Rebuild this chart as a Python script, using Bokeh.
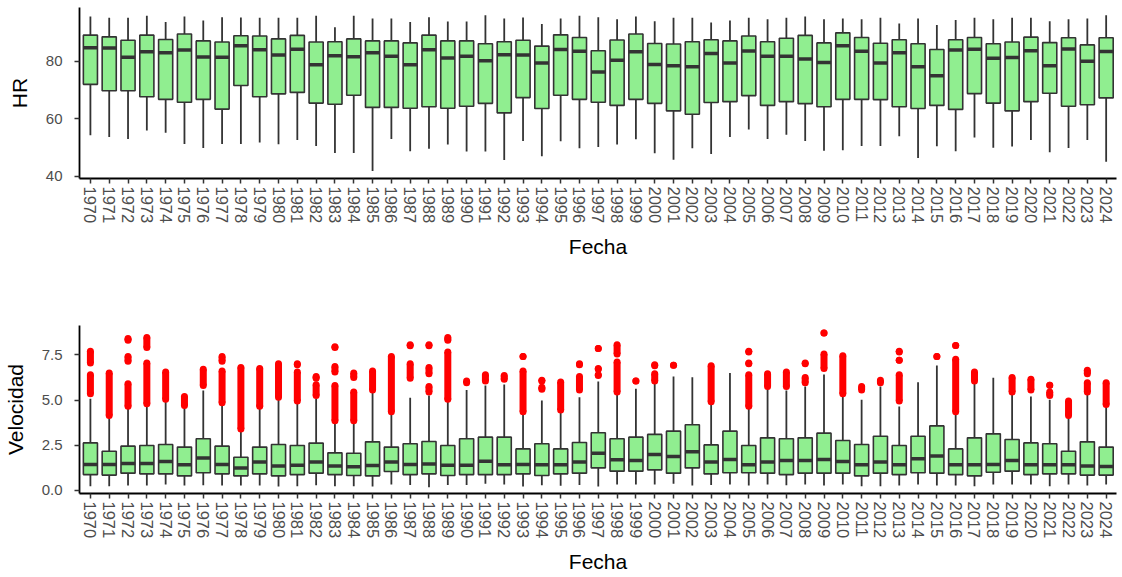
from bokeh.plotting import figure
from bokeh.layouts import column
from bokeh.models import FixedTicker, Range1d
from bokeh.embed import file_html
from bokeh.resources import INLINE

years = list(range(1970, 2025))

# HR (%) yearly box statistics
hr_upper = [95.6, 95.1, 95.1, 95.8, 93.7, 95.6, 94.2, 95.3, 95.2, 95.1, 95.1, 95.1, 95.8, 91.8, 95.8,
            94.9, 94.9, 93.7, 95.3, 93.8, 93.8, 96.0, 94.9, 95.2, 93.0, 94.9, 95.8, 95.3, 94.6, 95.6,
            93.9, 95.1, 95.1, 93.5, 94.2, 95.1, 94.6, 95.1, 95.6, 94.6, 94.9, 94.6, 95.1, 93.1, 94.9,
            92.6, 94.4, 95.1, 94.6, 95.1, 95.1, 93.9, 94.6, 94.9, 96.0]
hr_q3 = [89.1, 88.5, 87.3, 89.1, 87.6, 89.5, 87.1, 86.7, 88.9, 88.8, 87.8, 89.0, 86.7, 86.8, 87.8,
         87.1, 87.1, 86.4, 89.1, 87.1, 87.1, 86.1, 86.8, 87.3, 85.3, 89.2, 88.3, 83.7, 87.4, 89.5,
         86.2, 86.0, 86.8, 87.5, 87.1, 88.8, 86.8, 88.0, 89.0, 86.4, 89.9, 88.3, 86.3, 87.5, 86.1,
         84.1, 87.5, 88.3, 86.1, 86.7, 88.4, 86.5, 88.2, 85.7, 88.2]
hr_median = [84.7, 84.6, 81.4, 83.3, 83.0, 83.9, 81.5, 81.4, 85.4, 84.0, 82.2, 84.2, 78.8, 81.9, 81.6,
             83.0, 81.8, 78.8, 84.0, 81.2, 81.8, 80.2, 82.3, 82.2, 79.4, 84.1, 83.5, 76.3, 80.4, 83.3,
             78.9, 78.5, 78.1, 82.7, 79.4, 83.6, 81.8, 81.8, 80.8, 79.6, 85.4, 83.5, 79.4, 83.0, 78.1,
             75.0, 83.9, 84.2, 81.1, 81.3, 83.7, 78.5, 84.3, 80.0, 83.4]
hr_q1 = [72.0, 69.8, 69.8, 67.7, 66.8, 65.8, 66.8, 63.4, 71.6, 67.7, 68.7, 69.2, 65.5, 65.1, 68.2,
         64.0, 64.0, 63.7, 64.2, 63.7, 64.4, 65.4, 62.1, 67.4, 63.6, 68.2, 66.8, 65.8, 64.7, 66.8,
         65.4, 62.8, 61.6, 65.7, 66.0, 68.1, 64.7, 66.0, 65.3, 64.2, 66.8, 66.8, 66.7, 64.2, 63.6,
         64.7, 63.3, 68.8, 65.5, 62.8, 66.0, 68.9, 64.4, 64.9, 67.3]
hr_lower = [54.3, 53.7, 53.0, 56.0, 55.2, 51.3, 49.9, 51.3, 51.3, 51.8, 51.2, 52.7, 50.6, 48.2, 48.2,
            41.9, 53.0, 48.8, 49.6, 51.1, 48.7, 48.7, 45.7, 52.3, 47.0, 52.2, 49.8, 50.2, 51.1, 52.9,
            48.1, 45.8, 49.8, 47.8, 53.7, 56.3, 53.0, 54.5, 52.3, 48.9, 49.1, 50.6, 50.6, 54.0, 46.4,
            50.5, 48.8, 53.5, 50.0, 50.4, 52.7, 48.4, 49.9, 52.7, 45.1]

# Velocidad yearly box statistics
vel_upper = [5.07, 4.05, 4.60, 4.74, 4.97, 4.60, 5.53, 4.70, 3.32, 4.60, 5.07, 4.92, 5.07, 3.74, 3.74,
             5.43, 4.24, 5.12, 5.25, 5.01, 5.56, 5.80, 5.86, 4.20, 4.97, 4.33, 5.16, 6.03, 5.38, 5.62,
             5.90, 6.30, 6.26, 4.79, 6.50, 4.60, 5.62, 5.53, 5.75, 6.41, 5.25, 5.01, 5.75, 4.64, 5.99,
             6.91, 4.20, 5.90, 6.23, 5.29, 5.20, 5.01, 4.05, 5.34, 4.64]
vel_q3 = [2.63, 2.17, 2.45, 2.49, 2.54, 2.40, 2.86, 2.45, 1.84, 2.40, 2.54, 2.49, 2.62, 2.08, 2.06,
          2.69, 2.40, 2.58, 2.71, 2.49, 2.86, 2.95, 2.95, 2.30, 2.58, 2.30, 2.65, 3.19, 2.86, 2.95,
          3.10, 3.28, 3.63, 2.52, 3.28, 2.49, 2.91, 2.86, 2.91, 3.17, 2.76, 2.54, 3.00, 2.49, 3.00,
          3.57, 2.30, 2.91, 3.13, 2.82, 2.63, 2.58, 2.17, 2.69, 2.40]
vel_median = [1.44, 1.44, 1.49, 1.49, 1.60, 1.42, 1.79, 1.44, 1.25, 1.57, 1.36, 1.40, 1.57, 1.35, 1.31,
              1.38, 1.57, 1.44, 1.47, 1.40, 1.40, 1.62, 1.42, 1.44, 1.42, 1.42, 1.57, 2.06, 1.70, 1.66,
              1.99, 1.88, 2.14, 1.57, 1.71, 1.42, 1.57, 1.66, 1.66, 1.71, 1.60, 1.42, 1.57, 1.42, 1.75,
              1.90, 1.42, 1.42, 1.44, 1.66, 1.42, 1.42, 1.42, 1.36, 1.33]
vel_q1 = [0.88, 0.85, 0.96, 0.92, 0.92, 0.81, 0.98, 0.92, 0.81, 0.92, 0.81, 0.88, 0.96, 0.88, 0.83,
          0.81, 1.05, 0.88, 0.92, 0.83, 0.88, 0.88, 0.88, 0.92, 0.83, 0.92, 0.96, 1.25, 1.07, 1.07,
          1.14, 0.96, 1.25, 0.92, 0.98, 0.98, 0.96, 0.88, 0.96, 0.96, 0.96, 0.81, 0.96, 0.88, 0.98,
          0.96, 0.88, 0.81, 1.01, 1.07, 0.88, 0.92, 0.92, 0.85, 0.85]
vel_lower = [0.24, 0.24, 0.28, 0.28, 0.33, 0.28, 0.29, 0.28, 0.28, 0.28, 0.22, 0.24, 0.29, 0.24, 0.24,
             0.22, 0.33, 0.31, 0.18, 0.31, 0.31, 0.37, 0.33, 0.22, 0.29, 0.26, 0.31, 0.22, 0.33, 0.33,
             0.33, 0.37, 0.28, 0.31, 0.33, 0.28, 0.33, 0.29, 0.33, 0.28, 0.33, 0.24, 0.24, 0.28, 0.33,
             0.28, 0.28, 0.24, 0.33, 0.33, 0.33, 0.24, 0.33, 0.28, 0.33]

# Velocidad outliers, as runs of closely packed points (year, lowest, highest)
out_year = [1970, 1970, 1971, 1972, 1972, 1972, 1973, 1973, 1974, 1975, 1976, 1977, 1977, 1978, 1979,
            1980, 1981, 1981, 1982, 1982, 1983, 1983, 1983, 1984, 1984, 1985, 1986, 1987, 1987, 1988,
            1988, 1988, 1989, 1989, 1990, 1991, 1992, 1993, 1993, 1994, 1994, 1995, 1996, 1996, 1997,
            1997, 1997, 1998, 1998, 1999, 2000, 2000, 2001, 2003, 2005, 2005, 2005, 2006, 2007, 2008,
            2008, 2009, 2009, 2010, 2011, 2012, 2013, 2013, 2013, 2015, 2016, 2016, 2017, 2019, 2020,
            2021, 2021, 2022, 2023, 2023, 2024]
out_lo = [5.35, 7.05, 4.15, 4.65, 7.15, 8.30, 4.80, 7.90, 5.05, 4.70, 5.80, 4.85, 7.15, 3.40, 4.65,
          5.15, 4.95, 6.95, 5.25, 6.20, 3.85, 6.55, 7.90, 3.85, 6.25, 5.55, 4.35, 6.20, 8.00, 5.45,
          6.45, 8.00, 5.05, 8.30, 5.95, 6.05, 6.15, 4.35, 7.40, 5.60, 6.05, 4.45, 5.55, 6.95, 6.35,
          6.70, 7.85, 5.45, 7.55, 6.05, 6.05, 6.90, 6.92, 4.90, 4.65, 7.00, 7.65, 5.75, 5.75, 5.95,
          7.00, 6.75, 8.70, 5.35, 5.55, 5.95, 4.95, 7.20, 7.65, 7.40, 4.35, 8.02, 6.05, 5.45, 5.55,
          5.25, 5.82, 4.15, 5.45, 6.45, 4.75]
out_hi = [6.40, 7.70, 6.50, 5.90, 7.40, 8.40, 7.05, 8.45, 6.55, 5.20, 6.70, 6.60, 7.40, 6.80, 6.75,
          7.00, 6.55, 7.00, 5.85, 6.30, 5.80, 6.85, 7.95, 5.45, 6.50, 6.60, 7.40, 7.00, 8.05, 5.75,
          6.80, 8.05, 7.65, 8.45, 6.05, 6.40, 6.35, 6.60, 7.40, 5.70, 6.10, 6.00, 6.30, 7.00, 6.40,
          6.75, 7.85, 7.10, 8.05, 6.05, 6.45, 6.95, 6.92, 6.90, 6.40, 7.05, 7.70, 6.45, 6.55, 6.25,
          7.05, 7.55, 8.70, 7.45, 5.75, 6.10, 6.40, 7.20, 7.70, 7.40, 7.25, 8.02, 6.55, 6.25, 6.15,
          5.45, 5.82, 4.95, 5.95, 6.65, 5.95]

FONT = "Liberation Sans"
FILL = "#90EE90"
EDGE = "#333333"
BOX_W = 0.75


def styled_figure(height, y_range, y_ticks, y_label, border_top, border_bottom):
    p = figure(width=1122, height=height, output_backend="svg", toolbar_location=None,
               x_range=Range1d(1969.42, 2024.55), y_range=y_range,
               min_border_left=78, min_border_right=6,
               min_border_top=border_top, min_border_bottom=border_bottom)
    p.outline_line_color = None
    p.xgrid.grid_line_color = None
    p.ygrid.grid_line_color = None
    p.background_fill_color = "white"
    p.border_fill_color = "white"

    p.xaxis.ticker = FixedTicker(ticks=years)
    p.xaxis.major_label_overrides = {y: str(y) for y in years}
    p.xaxis.major_label_orientation = "vertical"
    p.xaxis.axis_label = "Fecha"

    p.yaxis.ticker = FixedTicker(ticks=y_ticks)
    p.yaxis.axis_label = y_label

    for ax in (p.xaxis, p.yaxis):
        ax.axis_line_color = "black"
        ax.axis_line_width = 1.8
        ax.major_tick_line_color = EDGE
        ax.major_tick_line_width = 1.5
        ax.major_tick_out = 5
        ax.major_tick_in = 0
        ax.minor_tick_line_color = None
        ax.major_label_text_font = FONT
        ax.major_label_text_font_size = "15px"
        ax.major_label_text_color = "#4D4D4D"
        ax.axis_label_text_font = FONT
        ax.axis_label_text_font_size = "21px"
        ax.axis_label_text_font_style = "normal"
        ax.axis_label_text_color = "black"
    p.xaxis.major_label_text_font_size = "16.5px"
    p.xaxis.major_label_standoff = 3
    p.xaxis.axis_label_standoff = 9
    p.yaxis.major_label_standoff = 12
    p.yaxis.axis_label_standoff = 12
    return p


def draw_boxes(p, lower, q1, med, q3, upper):
    half = BOX_W / 2
    p.segment(x0=years, x1=years, y0=q3, y1=upper, line_color=EDGE, line_width=1.8)
    p.segment(x0=years, x1=years, y0=lower, y1=q1, line_color=EDGE, line_width=1.8)
    p.vbar(x=years, width=BOX_W, bottom=q1, top=q3, fill_color=FILL,
           line_color=EDGE, line_width=1.6)
    p.segment(x0=[y - half for y in years], x1=[y + half for y in years],
              y0=med, y1=med, line_color=EDGE, line_width=3.5)


# HR panel
p1 = styled_figure(288, Range1d(39.3, 98.7), [40, 60, 80], "HR", 7, 110)
draw_boxes(p1, hr_lower, hr_q1, hr_median, hr_q3, hr_upper)

# Velocidad panel
p2 = styled_figure(289, Range1d(-0.166, 9.12), [0.0, 2.5, 5.0, 7.5], "Velocidad", 37, 84)
p2.yaxis.major_label_overrides = {0.0: "0.0", 2.5: "2.5", 5.0: "5.0", 7.5: "7.5"}
draw_boxes(p2, vel_lower, vel_q1, vel_median, vel_q3, vel_upper)
p2.segment(x0=out_year, x1=out_year, y0=out_lo, y1=out_hi, line_color="red", line_width=7)
p2.scatter(x=out_year + out_year, y=out_lo + out_hi, size=7, fill_color="red",
           line_color=None)

layout = column(p1, p2, spacing=0)
open("out.html", "w").write(file_html(layout, INLINE))
